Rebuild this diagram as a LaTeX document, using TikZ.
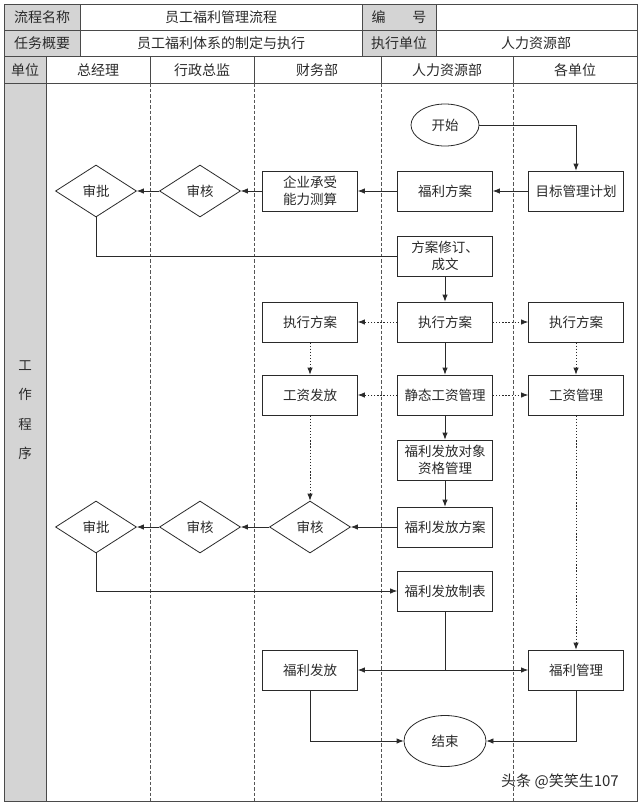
\documentclass[tikz,border=0pt]{standalone}
\usepackage{fontspec}
\setmainfont{Noto Sans CJK SC}
\usetikzlibrary{shapes.geometric,arrows.meta}
\definecolor{cellgray}{HTML}{D4D4D4}
\definecolor{ink}{HTML}{2A2A2A}
\newcommand{\bfs}{\fontsize{13.5}{17}\selectfont}
\newcommand{\hfs}{\fontsize{14}{17}\selectfont}
\begin{document}
\begin{tikzpicture}[x=1pt,y=-1pt,
  tline/.style={draw=ink!85, line width=0.8pt},
  lane/.style={draw=ink!80, line width=0.6pt, dash pattern=on 3.5pt off 2pt},
  hdr/.style={font=\hfs, text=ink, inner sep=0pt},
  box/.style={draw=ink, fill=white, line width=0.8pt, minimum width=95pt, minimum height=40pt, inner sep=0pt, align=center, font=\bfs, text=ink},
  dia/.style={diamond, draw=ink, fill=white, line width=0.8pt, minimum width=81pt, minimum height=52pt, inner sep=0pt, font=\bfs, text=ink},
  oval/.style={ellipse, draw=ink, fill=white, line width=0.8pt, inner sep=0pt, font=\bfs, text=ink},
  conn/.style={draw=ink, line width=0.8pt},
  arr/.style={conn, -{Latex[length=7pt,width=5.5pt]}},
  dotarr/.style={arr, dash pattern=on 1.3pt off 1.8pt}
]
\useasboundingbox (0,0) rectangle (640,803);
% gray cells
\fill[cellgray] (4,4) rectangle (80,56);
\fill[cellgray] (362,4) rectangle (436,56);
\fill[cellgray] (4,56) rectangle (46,801);
% table lines
\draw[tline] (4,4) rectangle (637,801);
\draw[tline] (4,30) -- (637,30);
\draw[tline] (4,56) -- (637,56);
\draw[tline] (4,83) -- (637,83);
\draw[tline] (80,4) -- (80,56);
\draw[tline] (362,4) -- (362,56);
\draw[tline] (436,4) -- (436,56);
\draw[tline] (46,56) -- (46,801);
\foreach \xx in {150,254,381,513}{
  \draw[tline] (\xx,56) -- (\xx,83);
  \draw[lane] (\xx,83) -- (\xx,801);
}
% header texts
\node[hdr] (h1) at (42,17) {流程名称};
\node[hdr] (h2) at (221,17) {员工福利管理流程};
\node[hdr] (h3) at (399,17) {编\hspace{1.9em}号};
\node[hdr] (h4) at (42,43) {任务概要};
\node[hdr] (h5) at (221,43) {员工福利体系的制定与执行};
\node[hdr] (h6) at (399,43) {执行单位};
\node[hdr] (h7) at (536,43) {人力资源部};
\node[hdr] (c0) at (25,70) {单位};
\node[hdr] (c1) at (98,70) {总经理};
\node[hdr] (c2) at (202,70) {行政总监};
\node[hdr] (c3) at (317,70) {财务部};
\node[hdr] (c4) at (447,70) {人力资源部};
\node[hdr] (c5) at (575,70) {各单位};
\node[hdr, align=center, font=\fontsize{13.5}{29.3}\selectfont] (gzcx) at (25,410) {工\\作\\程\\序};
% nodes
\node[oval, minimum width=68pt, minimum height=42pt] (start) at (445,125) {开始};
\node[box] (mbjh) at (576,191) {目标管理计划};
\node[box] (flfa) at (445,191) {福利方案};
\node[box] (qycs) at (310,191) {企业承受\\能力测算};
\node[dia] (sh1) at (200,191) {审核};
\node[dia] (sp1) at (96,191) {审批};
\node[box] (faxd) at (445,256) {方案修订、\\成文};
\node[box] (zx2) at (310,322) {执行方案};
\node[box] (zx1) at (445,322) {执行方案};
\node[box] (zx3) at (576,322) {执行方案};
\node[box] (gzff) at (310,395) {工资发放};
\node[box] (jtgz) at (445,395) {静态工资管理};
\node[box] (gzgl) at (576,395) {工资管理};
\node[box] (dxzg) at (445,460) {福利发放对象\\资格管理};
\node[dia] (sh3) at (310,527) {审核};
\node[dia] (sh2) at (200,527) {审核};
\node[dia] (sp2) at (96,527) {审批};
\node[box] (fffa) at (445,527) {福利发放方案};
\node[box] (ffzb) at (445,591) {福利发放制表};
\node[box] (flff) at (310,670) {福利发放};
\node[box] (flgl) at (576,670) {福利管理};
\node[oval, minimum width=82pt, minimum height=51pt] (end) at (445,741) {结束};
% connectors
\draw[arr] (start.east) -| (mbjh.north);
\draw[arr] (mbjh) -- (flfa);
\draw[arr] (flfa) -- (qycs);
\draw[arr] (qycs) -- (sh1);
\draw[arr] (sh1) -- (sp1);
\draw[conn] (sp1.south) |- (faxd.west);
\draw[arr] (faxd) -- (zx1);
\draw[dotarr] (zx1) -- (zx2);
\draw[dotarr] (zx1) -- (zx3);
\draw[arr] (zx1) -- (jtgz);
\draw[dotarr] (zx2) -- (gzff);
\draw[dotarr] (zx3) -- (gzgl);
\draw[dotarr] (jtgz) -- (gzff);
\draw[dotarr] (jtgz) -- (gzgl);
\draw[arr] (jtgz) -- (dxzg);
\draw[arr] (dxzg) -- (fffa);
\draw[dotarr] (gzff) -- (sh3);
\draw[arr] (fffa) -- (sh3);
\draw[arr] (sh3) -- (sh2);
\draw[arr] (sh2) -- (sp2);
\draw[arr] (sp2.south) |- (ffzb.west);
\coordinate (jn) at (ffzb.south |- flff.east);
\draw[conn] (ffzb.south) -- (jn);
\draw[arr] (jn) -- (flff.east);
\draw[arr] (jn) -- (flgl.west);
\draw[dotarr] (gzgl) -- (flgl);
\draw[arr] (flff.south) |- (end.west);
\draw[arr] (flgl.south) |- (end.east);
% watermark
\node[font=\fontsize{15}{15}\selectfont, text=ink, inner sep=0pt] (wm) at (560,781) {头条 @笑笑生107};
\end{tikzpicture}
\end{document}
